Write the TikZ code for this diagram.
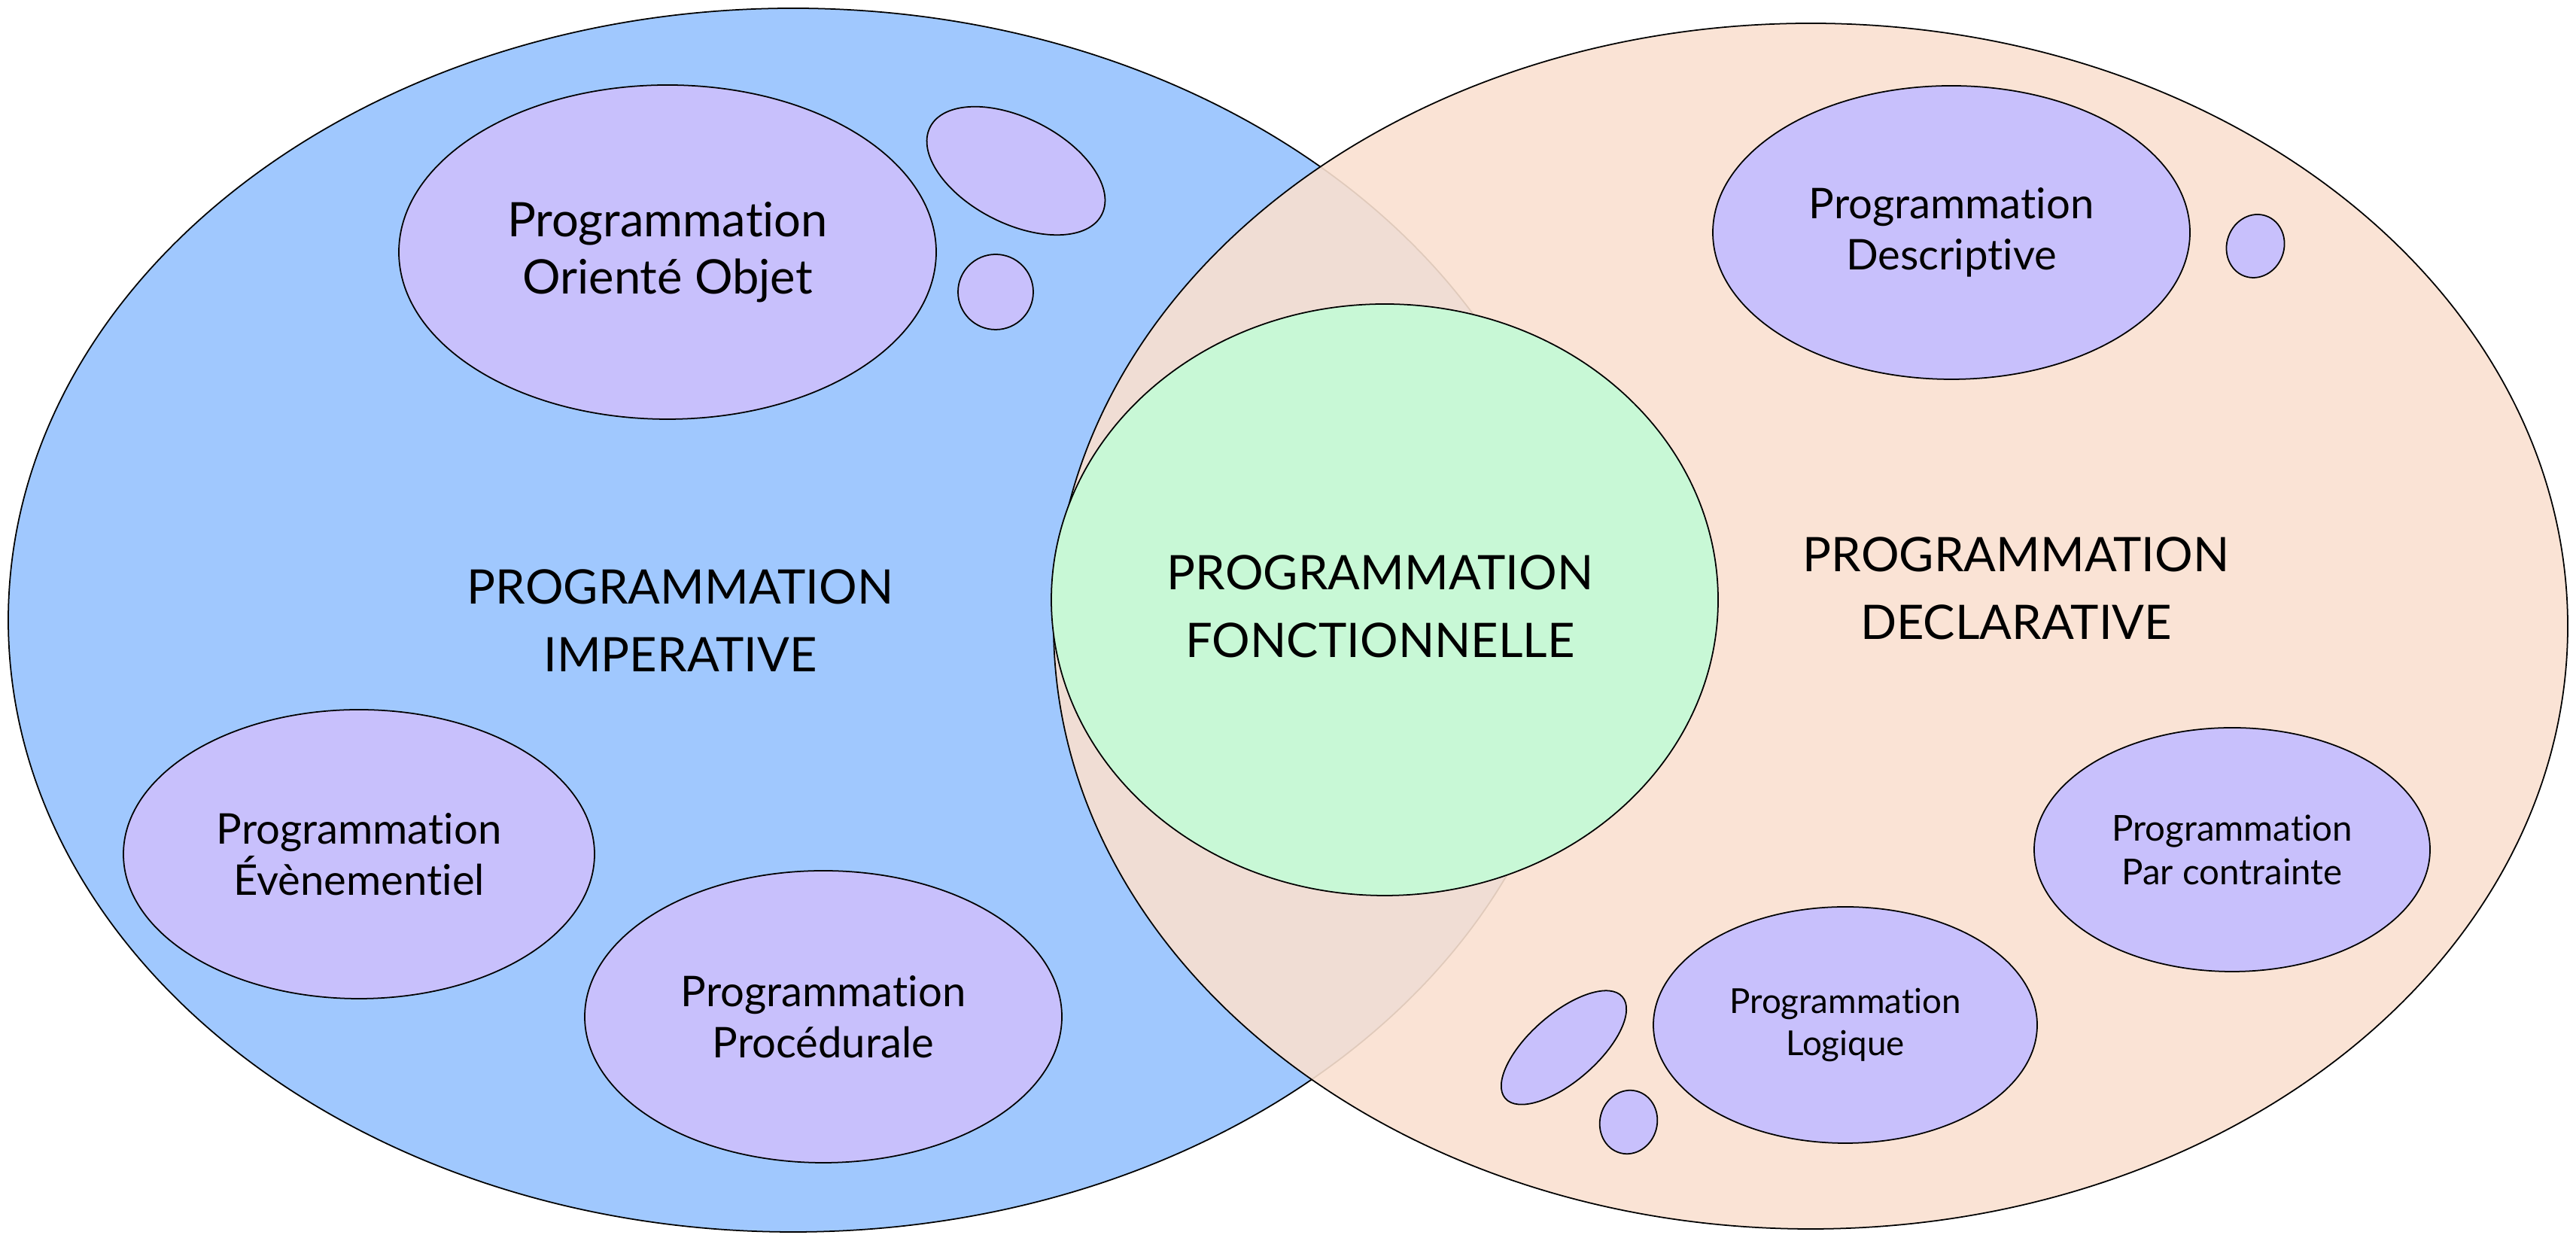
\documentclass[tikz,border=0pt]{standalone}
\usepackage{fontspec}
\setmainfont{Lato}[Ligatures=NoCommon]
\usepackage{tikz}
\usetikzlibrary{shapes.geometric}

\definecolor{impblue}{HTML}{A0C8FE}
\definecolor{declpeach}{HTML}{F9E0D0}
\definecolor{fonctgreen}{HTML}{C8F8D6}
\definecolor{sublilac}{HTML}{C8C0FC}

\begin{document}
\begin{tikzpicture}[line width=0.5pt]
  \tikzset{
    family/.style={draw, ellipse, inner sep=0pt},
    bubble/.style={draw, ellipse, inner sep=0pt, fill=sublilac, align=center},
    biglabel/.style={align=center, font=\fontsize{18}{25.6}\selectfont},
  }
  \useasboundingbox (0,0) rectangle (34.23,16.49);

  % Imperative side
  \node [family, fill=impblue, minimum width=20.86cm, minimum height=16.26cm] (imp) at (10.54, 8.25) {};

  \node [bubble, minimum width=7.14cm, minimum height=4.44cm, font=\fontsize{18}{21.6}\selectfont] (oop) at (8.87, 13.14) {Programmation\\Orienté Objet};
  \node [bubble, minimum width=6.26cm, minimum height=3.84cm, font=\fontsize{16}{19.5}\selectfont] (event) at (4.77, 5.14) {Programmation\\Évènementiel};
  \node [bubble, minimum width=6.34cm, minimum height=3.88cm, font=\fontsize{16}{19.5}\selectfont] (proc) at (10.94, 2.98) {Programmation\\Procédurale};

  \foreach \n/\p/\w/\h/\r in {imp-b1/{13.50, 14.22}/2.56/1.40/-27, imp-b2/{13.23, 12.61}/1.00/1.00/0} {
    \node [bubble, minimum width=\w cm, minimum height=\h cm, rotate=\r] (\n) at (\p) {};
  }

  % Declarative side
  \node [family, fill=declpeach, fill opacity=0.9, minimum width=20.12cm, minimum height=16.02cm] (decl) at (24.06, 8.17) {};

  \node [bubble, minimum width=6.34cm, minimum height=3.90cm, font=\fontsize{16}{19.5}\selectfont] (desc) at (25.93, 13.40) {Programmation\\Descriptive};
  \node [bubble, minimum width=5.26cm, minimum height=3.24cm, font=\fontsize{13.5}{16.5}\selectfont] (contr) at (29.66, 5.20) {Programmation\\Par contrainte};
  \node [bubble, minimum width=5.10cm, minimum height=3.14cm, font=\fontsize{13}{16}\selectfont] (logic) at (24.52, 2.87) {Programmation\\Logique};

  \foreach \n/\p/\w/\h/\r in {decl-b1/{29.97, 13.22}/0.76/0.85/-20, decl-b2/{20.78, 2.57}/2.06/0.90/41, decl-b3/{21.64, 1.58}/0.76/0.85/-15} {
    \node [bubble, minimum width=\w cm, minimum height=\h cm, rotate=\r] (\n) at (\p) {};
  }

  % Functional, in between
  \node [family, fill=fonctgreen, minimum width=8.86cm, minimum height=7.86cm] (fonct) at (18.40, 8.52) {};

  % Labels
  \node [biglabel] (imp-label) at (9.04, 8.24) {PROGRAMMATION\\IMPERATIVE};
  \node [biglabel] (fonct-label) at (18.34, 8.43) {PROGRAMMATION\\FONCTIONNELLE};
  \node [biglabel] (decl-label) at (26.79, 8.67) {PROGRAMMATION\\DECLARATIVE};

\end{tikzpicture}
\end{document}
